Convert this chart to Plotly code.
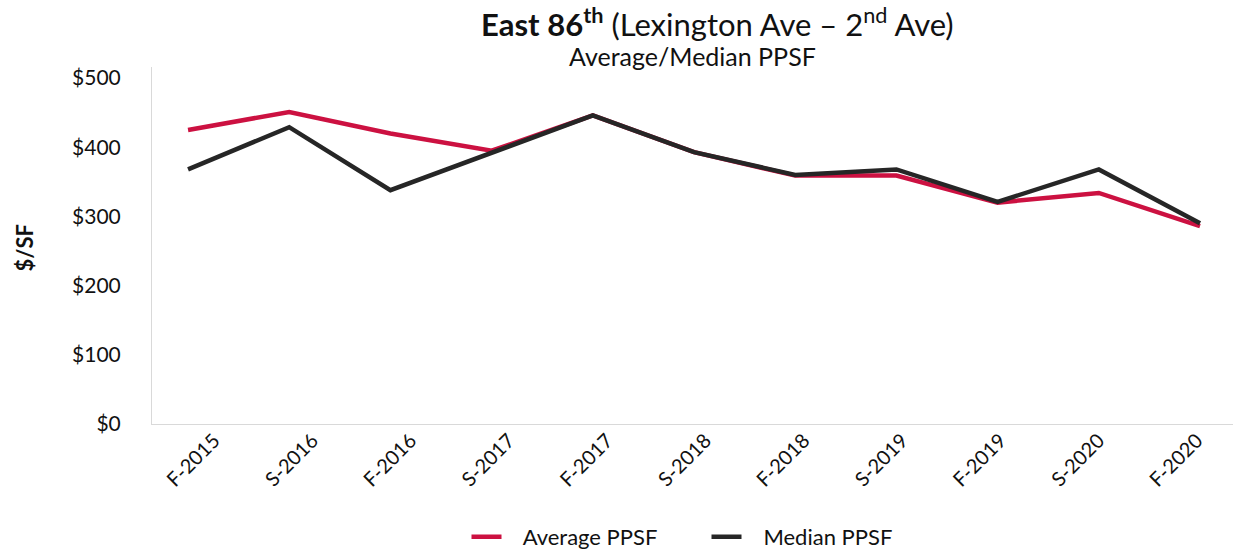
import plotly.graph_objects as go

categories = ["F-2015", "S-2016", "F-2016", "S-2017", "F-2017", "S-2018",
              "F-2018", "S-2019", "F-2019", "S-2020", "F-2020"]
average_ppsf = [425, 451, 420, 395, 446, 393, 359, 359, 320, 334, 286]
median_ppsf = [368, 429, 338, 392, 446, 393, 360, 368, 321, 368, 290]
y_ticks = [0, 100, 200, 300, 400, 500]
y_tick_labels = ["$0", "$100", "$200", "$300", "$400", "$500"]

FONT = "Lato, 'Open Sans', sans-serif"
RED = "#CC1141"
BLACK = "#262626"

idx = list(range(len(categories)))

fig = go.Figure()
fig.add_trace(go.Scatter(x=idx, y=average_ppsf, mode="lines",
                         name="   Average PPSF", line=dict(color=RED, width=4.5)))
fig.add_trace(go.Scatter(x=idx, y=median_ppsf, mode="lines",
                         name="   Median PPSF", line=dict(color=BLACK, width=4.5)))
# invisible carrier so the category-label axis is drawn
fig.add_trace(go.Scatter(x=idx, y=[None] * len(idx), mode="lines", xaxis="x2",
                         showlegend=False, hoverinfo="skip"))

fig.update_layout(
    width=1236, height=551,
    margin=dict(l=152, r=3, t=67, b=127),
    paper_bgcolor="white", plot_bgcolor="white",
    font=dict(family=FONT, color="#111111", size=20),
    showlegend=True,
    legend=dict(orientation="h", x=0.5 + 14 / 1081, xanchor="center", yref="container",
                y=1 - 537 / 551, yanchor="middle",
                font=dict(size=22, family=FONT), entrywidth=195, entrywidthmode="pixels",
                tracegroupgap=0),
    xaxis=dict(
        range=[-0.356, 10.326], showticklabels=False, showgrid=False, zeroline=False,
        showline=True, linecolor="#d9d9d9", linewidth=1, ticks="", automargin=False,
    ),
    xaxis2=dict(
        overlaying="x", side="bottom", anchor="y",
        tickmode="array", tickvals=idx, ticktext=categories,
        range=[-0.5, 10.5], tickangle=-45, showgrid=False, zeroline=False,
        showline=False, ticks="",
        tickfont=dict(size=20, family=FONT), automargin=False,
        ticklabelshift=13, ticklabelstandoff=0,
    ),
    yaxis=dict(
        range=[0, 516], tickmode="array", tickvals=y_ticks, ticktext=y_tick_labels,
        showgrid=False, zeroline=False, showline=True, linecolor="#d9d9d9", linewidth=1,
        ticks="", ticklabelstandoff=26, tickfont=dict(size=21, family=FONT),
        automargin=False,
    ),
    annotations=[
        dict(text="<b>East 86<sup>th</sup></b> (Lexington Ave – 2<sup>nd</sup> Ave)",
             xref="paper", yref="paper", x=0.523, y=1, yshift=45, xanchor="center",
             yanchor="middle", showarrow=False, font=dict(size=31, family=FONT, color="#111111")),
        dict(text="Average/Median PPSF",
             xref="paper", yref="paper", x=0.5, y=1, yshift=11, xanchor="center",
             yanchor="middle", showarrow=False, font=dict(size=25, family=FONT, color="#111111")),
        dict(text="<b>$/SF</b>", xref="paper", yref="paper", x=(24 - 152) / 1081, y=0.5,
             yshift=-2, textangle=-90, xanchor="center", yanchor="middle", showarrow=False,
             font=dict(size=22, family=FONT, color="#111111")),
    ],
)

fig.write_html("out.html", config={"displayModeBar": False},
               post_script="document.body.style.margin='0';")
